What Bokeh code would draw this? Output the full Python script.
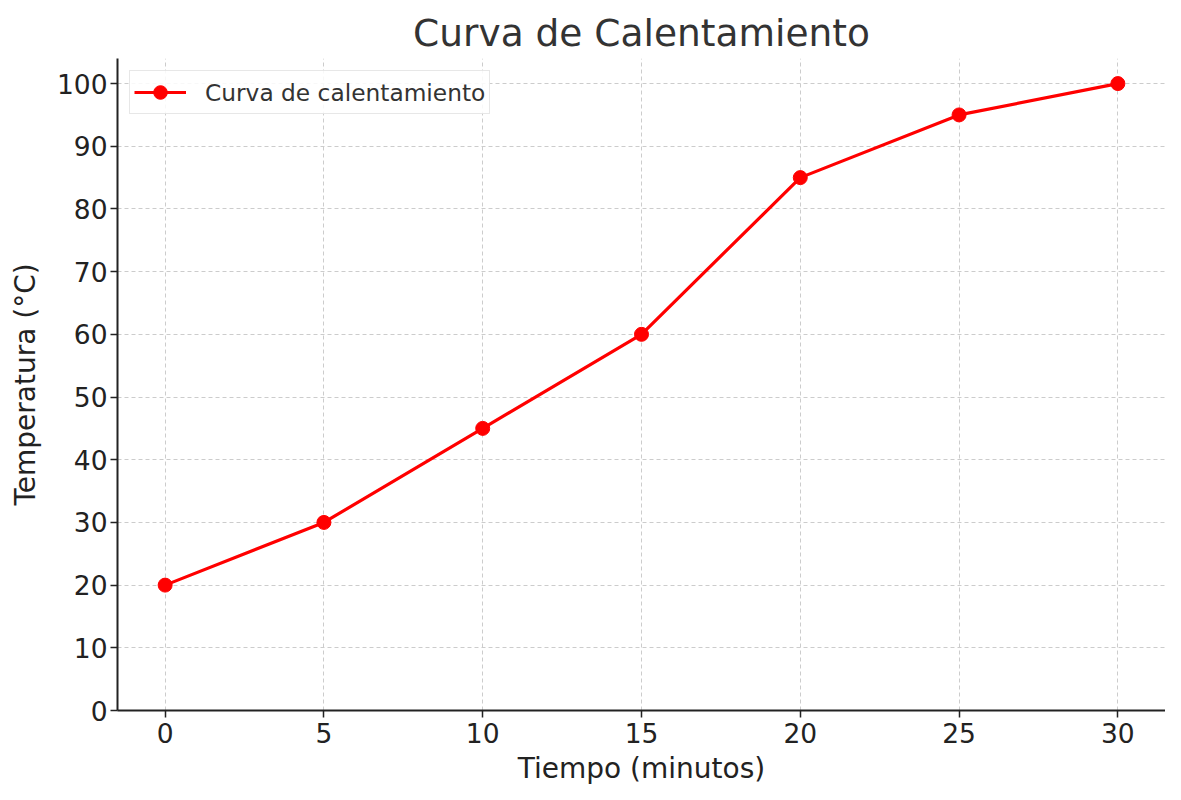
from bokeh.plotting import figure
from bokeh.models import FixedTicker, Range1d, Legend, LegendItem
from bokeh.embed import file_html
from bokeh.resources import INLINE

tiempo = [0, 5, 10, 15, 20, 25, 30]
temperatura = [20, 30, 45, 60, 85, 95, 100]
x_ticks = [0, 5, 10, 15, 20, 25, 30]
y_ticks = [0, 10, 20, 30, 40, 50, 60, 70, 80, 90, 100]
titulo = "Curva de Calentamiento"
etiqueta_x = "Tiempo (minutos)"
etiqueta_y = "Temperatura (°C)"
nombre_serie = "Curva de calentamiento"

FONT = "DejaVu Sans"

p = figure(width=1165, height=792, output_backend="svg", toolbar_location=None,
           x_range=Range1d(-1.5, 31.5), y_range=Range1d(0, 104),
           min_border_left=117, min_border_right=0, min_border_top=58, min_border_bottom=82)
p.background_fill_color = "white"
p.border_fill_color = "white"
p.outline_line_color = None

p.title.text = titulo
p.title.align = "center"
p.title.text_font = FONT
p.title.text_font_size = "37.5px"
p.title.text_font_style = "normal"
p.title.text_color = "#333333"
p.title.standoff = 7

r_line = p.line(tiempo, temperatura, line_color="#ff0000", line_width=3.2)
r_pts = p.scatter(tiempo, temperatura, size=14, fill_color="#ff0000", line_color="#ff0000")

for ax, ticks in ((p.xaxis, x_ticks), (p.yaxis, y_ticks)):
    ax.ticker = FixedTicker(ticks=ticks)
    ax.minor_tick_line_color = None
    ax.major_tick_in = 0
    ax.major_tick_out = 7
    ax.major_tick_line_width = 1.5
    ax.major_tick_line_color = "#222222"
    ax.axis_line_width = 2
    ax.axis_line_color = "#222222"
    ax.major_label_text_font = FONT
    ax.major_label_text_font_size = "26.5px"
    ax.major_label_text_color = "#222222"
    ax.axis_label_text_font = FONT
    ax.axis_label_text_font_size = "28px"
    ax.axis_label_text_font_style = "normal"
    ax.axis_label_text_color = "#222222"

p.xaxis.axis_label = etiqueta_x
p.yaxis.axis_label = etiqueta_y
p.xaxis.major_label_standoff = 5
p.yaxis.major_label_standoff = 3
p.xaxis.axis_label_standoff = 6
p.yaxis.axis_label_standoff = 12

for g in (p.xgrid, p.ygrid):
    g.grid_line_color = "#cccccc"
    g.grid_line_dash = "4 3"
    g.grid_line_width = 1

legend = Legend(items=[LegendItem(label=nombre_serie, renderers=[r_line, r_pts])],
                location="top_left")
legend.label_text_font = FONT
legend.label_text_font_size = "23.3px"
legend.label_text_color = "#333333"
legend.glyph_width = 52
legend.glyph_height = 34
legend.label_height = 34
legend.label_standoff = 19
legend.padding = 4
legend.margin = 12
legend.border_line_color = "#d0d0d0"
legend.border_line_width = 1.5
legend.background_fill_alpha = 0.85
p.add_layout(legend, "center")

open("out.html", "w").write(file_html(p, INLINE))
